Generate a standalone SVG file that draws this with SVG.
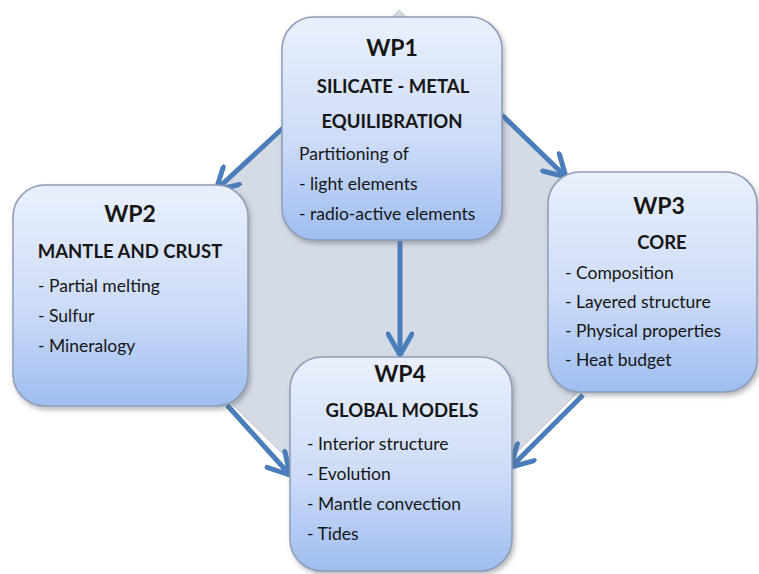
<svg xmlns="http://www.w3.org/2000/svg" width="759" height="574" viewBox="0 0 759 574">
  <defs>
    <linearGradient id="boxFill" x1="0" y1="0" x2="0" y2="1">
      <stop offset="0" stop-color="#eaf0fc"/>
      <stop offset="0.55" stop-color="#cddcf8"/>
      <stop offset="1" stop-color="#9fbdf0"/>
    </linearGradient>
    <filter id="shadow" x="-10%" y="-10%" width="125%" height="125%">
      <feDropShadow dx="2" dy="3" stdDeviation="2.5" flood-color="#5a6270" flood-opacity="0.45"/>
    </filter>
    <marker id="chevron" viewBox="-24 -14 28 28" refX="0" refY="0" markerWidth="28" markerHeight="28" markerUnits="userSpaceOnUse" orient="auto">
      <path d="M -21 -12 L 0 0 L -21 12" fill="none" stroke="#4a7ebb" stroke-width="5" stroke-linecap="round" stroke-linejoin="miter"/>
    </marker>
    <style>
      .box { fill: url(#boxFill); stroke: #8d9db6; stroke-width: 1.5; filter: url(#shadow); }
      .title { font-family: Lato, "Liberation Sans", sans-serif; font-weight: bold; font-size: 23px; fill: #161616; text-anchor: middle; }
      .head { font-family: Lato, "Liberation Sans", sans-serif; font-weight: bold; font-size: 18.5px; fill: #161616; text-anchor: middle; }
      .item { font-family: Lato, "Liberation Sans", sans-serif; font-size: 17.5px; fill: #161616; }
      .link { fill: none; stroke: #4a7ebb; stroke-width: 5; marker-end: url(#chevron); }
    </style>
  </defs>

  <rect width="759" height="574" fill="#ffffff"/>

  <!-- backdrop diamond behind the work packages -->
  <polygon id="backdrop" points="399,10 681,291 399,568 117,291" fill="#d5dbe5" stroke="#bcc4d0" stroke-width="1"/>

  <g id="connectors">
    <line class="link" x1="283" y1="128" x2="216" y2="190"/>
    <line class="link" x1="502" y1="115" x2="566" y2="177"/>
    <line class="link" x1="400" y1="241" x2="400" y2="355"/>
    <line class="link" x1="227" y1="405" x2="290" y2="475"/>
    <line class="link" x1="583" y1="395" x2="511" y2="467"/>
  </g>

  <g id="wp1">
    <rect class="box" x="282" y="17" width="220" height="223" rx="32"/>
    <text class="title" x="392" y="56">WP1</text>
    <text class="head" x="393" y="93">SILICATE - METAL</text>
    <text class="head" x="392" y="128">EQUILIBRATION</text>
    <text class="item" x="299" y="160">Partitioning of</text>
    <text class="item" x="299" y="190">- light elements</text>
    <text class="item" x="299" y="220">- radio-active elements</text>
  </g>

  <g id="wp2">
    <rect class="box" x="13" y="185" width="235" height="221" rx="32"/>
    <text class="title" x="130" y="222">WP2</text>
    <text class="head" x="130" y="258">MANTLE AND CRUST</text>
    <text class="item" x="38" y="292">- Partial melting</text>
    <text class="item" x="38" y="322">- Sulfur</text>
    <text class="item" x="38" y="352">- Mineralogy</text>
  </g>

  <g id="wp3">
    <rect class="box" x="548" y="172" width="209" height="220" rx="32"/>
    <text class="title" x="659" y="214">WP3</text>
    <text class="head" x="662" y="249">CORE</text>
    <text class="item" x="565" y="279">- Composition</text>
    <text class="item" x="565" y="308">- Layered structure</text>
    <text class="item" x="565" y="337">- Physical properties</text>
    <text class="item" x="565" y="366">- Heat budget</text>
  </g>

  <g id="wp4">
    <rect class="box" x="290" y="357" width="222" height="214" rx="32"/>
    <text class="title" x="400" y="382">WP4</text>
    <text class="head" x="402" y="417">GLOBAL MODELS</text>
    <text class="item" x="307" y="450">- Interior structure</text>
    <text class="item" x="307" y="480">- Evolution</text>
    <text class="item" x="307" y="510">- Mantle convection</text>
    <text class="item" x="307" y="540">- Tides</text>
  </g>
</svg>
